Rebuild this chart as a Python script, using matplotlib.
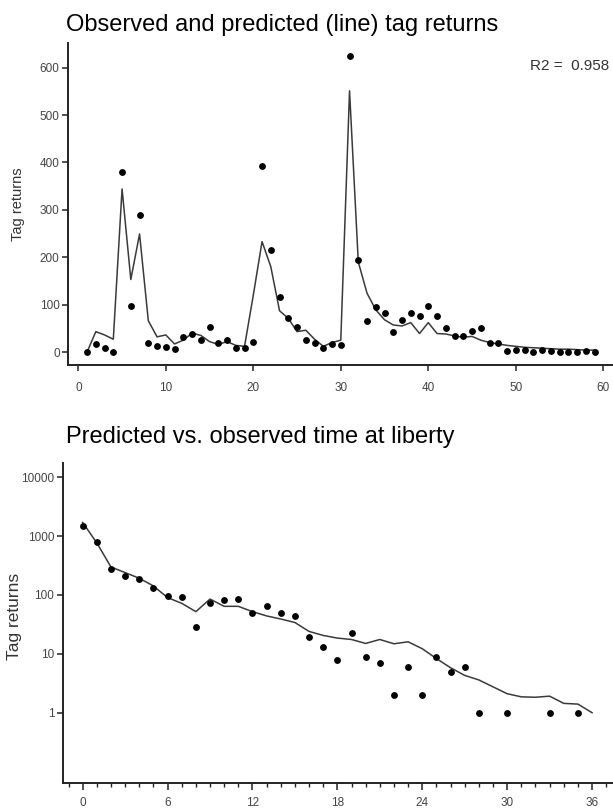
import matplotlib
matplotlib.use("Agg")
import matplotlib.pyplot as plt
from matplotlib.ticker import FixedLocator, MultipleLocator, NullLocator
import numpy as np

plt.rcParams["font.family"] = ["Liberation Sans", "DejaVu Sans"]

# top panel: returns by period
period = list(range(1, 60))
obs_returns = [0, 17, 9, 0, 380, 97, 289, 20, 13, 10, 6, 32, 39, 25, 52, 20, 25, 9, 8, 21,
               393, 215, 117, 72, 53, 25, 20, 8, 16, 15, 624, 194, 65, 96, 83, 42, 68, 83, 75, 97,
               77, 50, 34, 33, 44, 50, 18, 18, 3, 4, 5, 1, 5, 3, 1, 0, 0, 3, 1]
pred_returns = [0, 43, 36, 27, 344, 153, 249, 66, 32, 36, 17, 25, 40, 35, 22, 16, 22, 14, 12, 120,
                233, 180, 87, 71, 43, 46, 27, 12, 20, 25, 551, 190, 124, 89, 68, 57, 55, 62, 39, 62,
                39, 38, 34, 31, 33, 25, 20, 17, 14, 12, 10, 9, 8, 7, 6, 6, 5, 4, 4]
r2_text = "R2 =  0.958"

# bottom panel: time at liberty
liberty_obs_x = list(range(0, 29)) + [30, 33, 35]
liberty_obs = [1503, 794, 279, 210, 185, 132, 97, 93, 28, 74, 82, 86, 49, 65, 50, 43, 19, 13, 8,
               23, 9, 7, 2, 6, 2, 9, 5, 6, 1, 1, 1, 1]
liberty_pred_x = list(range(0, 37))
liberty_pred = [1700, 765, 298, 239, 192, 142, 90, 72, 52, 85, 64, 64, 52, 44, 39, 34, 24, 20.5,
                18.5, 17.5, 15, 17.5, 14.8, 16, 12.2, 8.3, 5.8, 4.3, 3.6, 2.75, 2.1, 1.86, 1.83,
                1.91, 1.44, 1.4, 1.0]

W, H = 613, 810
fig = plt.figure(figsize=(W / 100, H / 100), dpi=100)

tick_col = "#444444"
line_col = "#3a3a3a"


def px_axes(left, top, right, bottom):
    return fig.add_axes([left / W, 1 - bottom / H, (right - left) / W, (bottom - top) / H])


def style(ax):
    for s in ("top", "right"):
        ax.spines[s].set_visible(False)
    for s in ("left", "bottom"):
        ax.spines[s].set_linewidth(1.4)
        ax.spines[s].set_color("#222222")
    ax.tick_params(axis="both", which="major", direction="out", length=4, width=1.1,
                   color="#222222", labelcolor=tick_col, labelsize=8.5)


# top chart
ax1 = px_axes(68, 43, 612, 365)
ax1.plot(period, pred_returns, color=line_col, lw=1.1, zorder=2)
ax1.plot(period, obs_returns, "o", color="black", ms=3.9, zorder=3)
ax1.set_xlim(-1.18, 61.0)
ax1.set_ylim(-27.4, 652)
ax1.set_xticks(np.arange(0, 61, 10))
ax1.set_yticks(np.arange(0, 601, 100))
style(ax1)
ax1.tick_params(axis="x", pad=8)
ax1.tick_params(axis="y", pad=2)
ax1.set_ylabel("Tag returns", fontsize=10.5, color="#333333")
ax1.yaxis.set_label_coords(-0.079, 0.5)
ax1.text(0.995, 0.93, r2_text, transform=ax1.transAxes, ha="right", va="center",
         fontsize=11, color="#333333")

fig.text(66 / W, 1 - 30.7 / H, "Observed and predicted (line) tag returns",
         fontsize=17, va="baseline", ha="left", color="black")

# bottom chart
ax2 = px_axes(62.7, 462.7, 613, 782.7)
ax2.set_yscale("log")
ax2.plot(liberty_pred_x, liberty_pred, color=line_col, lw=1.1, zorder=2)
ax2.plot(liberty_obs_x, liberty_obs, "o", color="black", ms=3.9, zorder=3)
ax2.set_xlim(-1.41, 37.48)
ax2.set_ylim(0.0648, 17570)
ax2.set_xticks(np.arange(0, 37, 6))
ax2.xaxis.set_minor_locator(MultipleLocator(1))
ax2.yaxis.set_major_locator(FixedLocator([1, 10, 100, 1000, 10000]))
ax2.yaxis.set_minor_locator(NullLocator())
ax2.set_yticklabels(["1", "10", "100", "1000", "10000"])
style(ax2)
ax2.tick_params(axis="x", which="major", length=5, pad=5)
ax2.tick_params(axis="x", which="minor", length=3, width=1.0, color="#222222")
ax2.tick_params(axis="y", pad=2)
ax2.set_ylabel("Tag returns", fontsize=12.5, color="#333333")
ax2.yaxis.set_label_coords(-0.074, 0.52)

fig.text(66 / W, 1 - 443 / H, "Predicted vs. observed time at liberty",
         fontsize=17, va="baseline", ha="left", color="black")

fig.savefig("out.png", dpi=100)
